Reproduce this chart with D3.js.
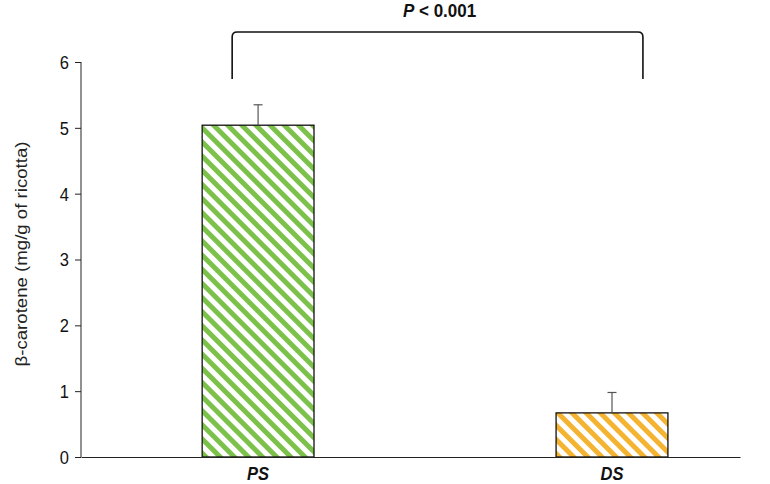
<!DOCTYPE html>
<html><head><meta charset="utf-8">
<script src="https://cdn.jsdelivr.net/npm/d3@7"></script>
<style>body{margin:0;background:#fff}svg{display:block}text{font-family:"Liberation Sans",Arial,sans-serif}</style>
</head><body>
<script>
const categories = ["PS", "DS"];
const means = [5.04, 0.67];
const errors = [0.31, 0.31];
const yTicks = [0, 1, 2, 3, 4, 5, 6];
const colors = ["#7cc24a", "#f4b331"];
const pLabel = "< 0.001";

const W = 770, H = 484;
const SY = 1.1; // vertical stretch of the lettering
const svg = d3.select("body").append("svg").attr("width", W).attr("height", H);

const x = d3.scaleBand().domain(categories).range([81, 740])
  .paddingInner(0.684).paddingOuter(0.273).align(0.627);
const y = d3.scaleLinear().domain([0, 6]).range([457, 62]);

const defs = svg.append("defs");
categories.forEach((c, i) => {
  const p = defs.append("pattern").attr("id", "pat" + i)
    .attr("patternUnits", "userSpaceOnUse").attr("width", 10).attr("height", 10)
    .attr("patternTransform", "rotate(-45)");
  p.append("rect").attr("width", 10).attr("height", 10).attr("fill", "#fff");
  p.append("rect").attr("x", 0).attr("width", 5).attr("height", 10).attr("fill", colors[i]);
});

// bars
svg.selectAll("rect.bar").data(categories).enter().append("rect").attr("class", "bar")
  .attr("x", d => x(d)).attr("width", x.bandwidth())
  .attr("y", (d, i) => y(means[i])).attr("height", (d, i) => y(0) - y(means[i]))
  .attr("fill", (d, i) => `url(#pat${i})`).attr("stroke", "#111").attr("stroke-width", 1.3);

// error bars
const eb = svg.append("g").attr("stroke", "#555").attr("stroke-width", 1.2);
categories.forEach((c, i) => {
  const cx = x(c) + x.bandwidth() / 2;
  eb.append("line").attr("x1", cx).attr("x2", cx).attr("y1", y(means[i])).attr("y2", y(means[i] + errors[i]));
  eb.append("line").attr("x1", cx - 4.5).attr("x2", cx + 4.5).attr("y1", y(means[i] + errors[i])).attr("y2", y(means[i] + errors[i]));
});

// y axis
const ya = svg.append("g").attr("transform", "translate(81,0)")
  .call(d3.axisLeft(y).tickValues(yTicks).tickSize(6).tickPadding(6).tickFormat(d3.format("d")));
ya.select(".domain").attr("stroke", "#222").attr("d", `M-0,${y(6)}V${y(0)}`);
ya.selectAll(".tick line").attr("stroke", "#222");
ya.selectAll(".tick text").attr("font-size", 16.5).attr("fill", "#111")
  .attr("dy", null).attr("dominant-baseline", null)
  .attr("transform", `scale(1,${SY})`).attr("y", 5.8);

// x axis
const xa = svg.append("g").attr("transform", `translate(0,${y(0)})`)
  .call(d3.axisBottom(x).tickSize(0).tickPadding(10));
xa.select(".domain").attr("stroke", "#222");
xa.selectAll(".tick text").attr("font-size", 16.5).attr("font-weight", "bold").attr("font-style", "italic")
  .attr("fill", "#111").attr("dy", null).attr("y", 0)
  .attr("transform", `translate(0,22.5) scale(1,${SY})`);

// y label
svg.append("text").attr("transform", `translate(27,254) scale(1,1.13) rotate(-90)`)
  .attr("text-anchor", "middle").attr("font-size", 16.5).attr("fill", "#222")
  .text("β-carotene (mg/g of ricotta)");

// bracket
const bx1 = x("PS") + 30, bx2 = x("DS") + x.bandwidth() - 25;
const by = 32, bb = 79, r = 5;
svg.append("path")
  .attr("d", `M${bx1},${bb}V${by + r}Q${bx1},${by} ${bx1 + r},${by}H${bx2 - r}Q${bx2},${by} ${bx2},${by + r}V${bb}`)
  .attr("fill", "none").attr("stroke", "#111").attr("stroke-width", 1.6);

const t = svg.append("text").attr("transform", `translate(${(bx1 + bx2) / 2 + 2},16.5) scale(1,${SY})`)
  .attr("text-anchor", "middle").attr("font-size", 17).attr("font-weight", "bold").attr("fill", "#111");
t.append("tspan").attr("font-style", "italic").text("P");
t.append("tspan").text(" " + pLabel);
</script>
</body></html>
